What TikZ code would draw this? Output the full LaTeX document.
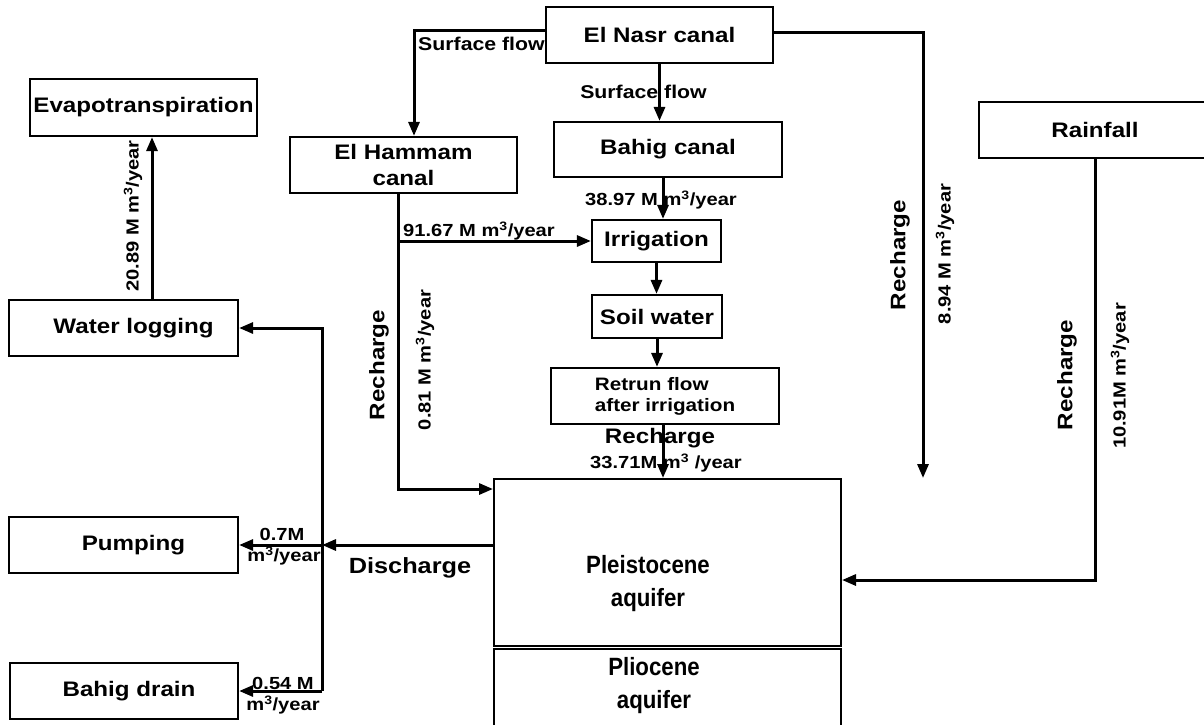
\documentclass[tikz,border=0pt]{standalone}
\usepackage{fontspec}
\setmainfont{Liberation Sans}[FakeStretch=1.15]
\newfontfamily\aqfont{Liberation Sans}[FakeStretch=0.89]
\usetikzlibrary{arrows.meta}
\begin{document}
\begin{tikzpicture}[x=1pt,y=-1pt,
  box/.style={draw, line width=2.2pt, inner sep=0pt, align=center, font=\bfseries\fontsize{21}{26}\selectfont},
  conn/.style={line width=3pt},
  arr/.style={line width=3pt, -{Triangle[length=14pt,width=11pt]}},
  lab/.style={font=\bfseries\fontsize{17.5}{20}\selectfont, inner sep=0pt},
  flab/.style={font=\bfseries\fontsize{18.5}{20}\selectfont, inner sep=0pt},
  blab/.style={font=\bfseries\fontsize{21}{24}\selectfont, inner sep=0pt},
  aq/.style={font=\aqfont\bfseries\fontsize{25}{33}\selectfont, align=center, inner sep=0pt}
]
\useasboundingbox (0,0) rectangle (1204,724);
\clip (0,0) rectangle (1204,724);

% boxes
\node[box, minimum width=227pt, minimum height=57pt] (evap) at (143.5,107.5) {Evapotranspiration};
\node[box, minimum width=227pt, minimum height=56pt] (hammam) at (403.5,165) {El Hammam\\canal};
\node[box, minimum width=227pt, minimum height=56pt] (nasr) at (659.5,35) {El Nasr canal};
\node[box, minimum width=228pt, minimum height=55pt] (bahig) at (668,149.5) {Bahig canal};
\node[box, minimum width=129pt, minimum height=42pt] (irr) at (656.5,241) {Irrigation};
\node[box, minimum width=130pt, minimum height=43pt] (soil) at (657,316.5) {Soil water};
\node[box, minimum width=228pt, minimum height=56pt, align=left, font=\bfseries\fontsize{18}{21}\selectfont] (ret) at (665,396) {Retrun flow\\after irrigation};
\node[box, line width=2pt, minimum width=347pt, minimum height=167pt] (pleist) at (667.5,562.5) {};
\node[aq] (pleisttext) at (648,584) {Pleistocene\\aquifer};
\draw[line width=2pt] (494,730) -- (494,649) -- (841,649) -- (841,730);
\node[aq] (plio) at (654,686) {Pliocene\\aquifer};
\node[box, minimum width=232pt, minimum height=56pt] (rain) at (1095,130) {Rainfall};
\node[box, minimum width=229pt, minimum height=56pt] (wlog) at (123.5,328) {\hspace*{20pt}Water logging};
\node[box, minimum width=229pt, minimum height=56pt] (pump) at (123.5,545) {\hspace*{20pt}Pumping};
\node[box, minimum width=228pt, minimum height=56pt] (bdrain) at (124,691) {\hspace*{10pt}Bahig drain};

% El Nasr -> El Hammam
\coordinate (c1) at (414,30);
\draw[arr] (nasr.west |- c1) -- (c1) -- (c1 |- hammam.north);
\node[flab, anchor=west] at (418,44) {Surface flow};

% El Nasr -> Bahig canal
\draw[arr] (nasr.south) -- (nasr.south |- bahig.north);
\node[flab] at (643.5,92) {Surface flow};

% El Nasr -> Pleistocene
\coordinate (r1) at (923,32);
\draw[arr] (nasr.east |- r1) -- (r1) -- (r1 |- pleist.north);
\node[blab, rotate=90] at (900,255) {Recharge};
\node[lab, rotate=90] at (945,254) {8.94 M m\textsuperscript{3}/year};

% Bahig canal -> Irrigation
\coordinate (xb) at (663,200);
\draw[arr] (bahig.south -| xb) -- (irr.north -| xb);
\node[lab] at (661,200) {38.97 M m\textsuperscript{3}/year};

% El Hammam -> Pleistocene and Irrigation
\coordinate (h1) at (398,489);
\draw[arr] (hammam.south -| h1) -- (h1) -- (h1 -| pleist.west);
\draw[arr] (irr.west -| h1) -- (irr.west);
\node[lab] at (479,231) {91.67 M m\textsuperscript{3}/year};
\node[blab, rotate=90] at (379,365) {Recharge};
\node[lab, rotate=90] at (425,360) {0.81 M m\textsuperscript{3}/year};

% Irrigation chain
\draw[arr] (irr.south) -- (irr.south |- soil.north);
\draw[arr] (soil.south) -- (soil.south |- ret.north);
\coordinate (xr) at (663,450);
\draw[arr] (ret.south -| xr) -- (pleist.north -| xr);
\node[blab] at (660,438) {Recharge};
\node[lab] at (666,463) {33.71M m\textsuperscript{3} /year};

% Rainfall -> Pleistocene
\coordinate (rr) at (1095,580);
\draw[arr] (rain.south) -- (rr) -- (rr -| pleist.east);
\node[blab, rotate=90] at (1067,375) {Recharge};
\node[lab, rotate=90] at (1120,376) {10.91M m\textsuperscript{3}/year};

% Discharge
\coordinate (d) at (322,545);
\coordinate (db) at (322,691);
\draw[arr] (d -| pleist.west) -- (d);
\node[font=\bfseries\fontsize{22}{24}\selectfont, inner sep=0pt] at (410,568) {Discharge};
\draw[arr] (db) -- (wlog.east -| d) -- (wlog.east);
\draw[arr] (d) -- (pump.east);
\draw[arr] (db) -- (bdrain.east);
\node[lab] at (282,534) {0.7M};
\node[lab] at (284,556) {m\textsuperscript{3}/year};
\node[lab] at (283,683) {0.54 M};
\node[lab] at (283,705) {m\textsuperscript{3}/year};

% Water logging -> Evapotranspiration
\coordinate (xe) at (152,0);
\draw[arr] (wlog.north -| xe) -- (evap.south -| xe);
\node[lab, rotate=90] at (133,216) {20.89 M m\textsuperscript{3}/year};
\end{tikzpicture}
\end{document}
